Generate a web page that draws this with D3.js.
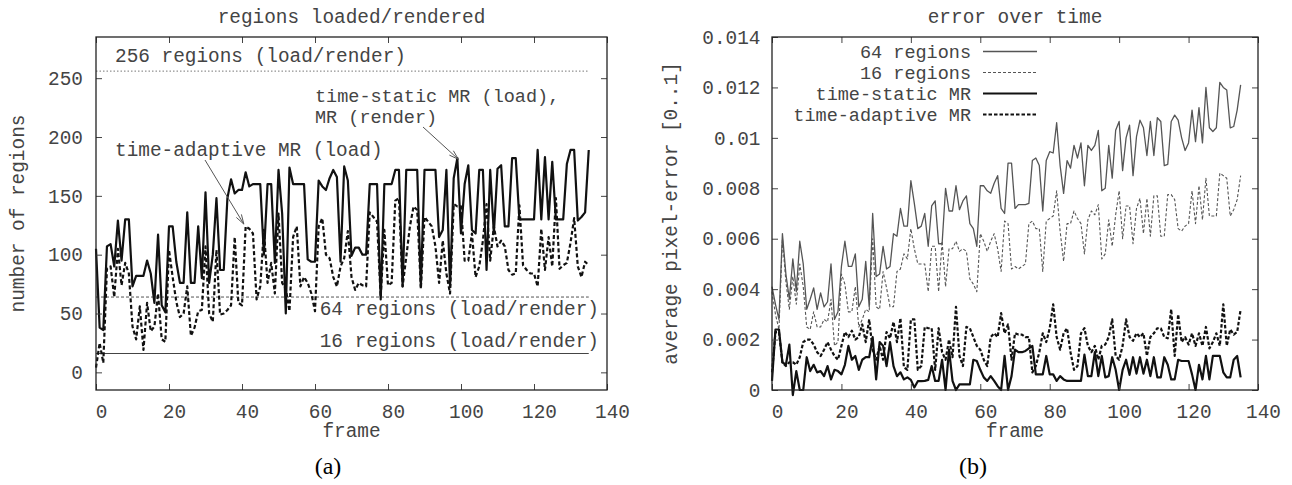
<!DOCTYPE html>
<html>
<head>
<meta charset="utf-8">
<script src="https://cdn.jsdelivr.net/npm/d3@7"></script>
<style>
body { margin: 0; background: #fff; }
</style>
</head>
<body>
<svg width="1292" height="485"></svg>
<script>

// frame number = position in the series (0..135)
var xTicks = [0, 20, 40, 60, 80, 100, 120, 140];
var regionTicks = [0, 50, 100, 150, 200, 250];
// error values are kept in units of 0.001
var errorTicks = [0, 2, 4, 6, 8, 10, 12, 14];
var errorTickLabels = ["0", "0.002", "0.004", "0.006", "0.008", "0.01", "0.012", "0.014"];

var fixedRegions = [256, 64, 16];
var fixedLabels = ["256 regions (load/render)", "64 regions (load/render)", "16 regions (load/render)"];

// (a) regions loaded
var loadStatic = [105,38,36,107,109,90,129,95,130,130,
    73,82,82,82,95,84,59,117,57,51,
    124,124,94,76,76,136,76,76,124,80,
    153,76,100,148,87,87,148,164,152,155,
    155,170,158,160,160,160,100,160,160,93,
    172,135,50,174,160,160,160,160,96,94,
    94,163,158,155,165,172,166,94,175,163,
    99,106,106,100,100,160,160,160,62,160,
    160,160,172,172,73,172,172,172,172,73,
    172,172,172,172,115,121,172,73,165,182,
    118,160,176,121,118,172,172,87,172,118,
    173,176,124,124,182,182,130,130,130,130,
    130,189,130,183,130,179,130,130,130,177,
    189,189,129,132,136,189];

var loadAdaptive = [4,25,8,88,90,64,105,74,93,84,
    39,28,56,19,59,35,39,67,28,26,
    104,81,60,47,50,73,31,38,52,53,
    107,50,43,104,49,50,53,57,115,59,
    57,124,122,118,62,73,121,76,93,67,
    135,76,71,52,115,124,73,81,76,67,
    52,124,131,100,97,81,73,90,97,120,
    81,70,76,74,73,136,132,128,64,121,
    74,76,146,148,73,98,124,141,138,71,
    132,128,124,107,76,112,84,67,143,141,
    141,95,95,118,81,90,112,143,95,124,
    107,112,107,87,83,84,142,91,87,84,
    84,73,122,87,115,90,148,88,91,93,
    110,131,90,81,94,91];

// (b) average pixel error, x 0.001
var err64 = [4.1,3.4,2.8,6.2,4.6,3.6,5.2,3.9,5.9,5.0,
    3.2,3.6,4.05,3.2,3.85,3.3,3.5,5.0,2.8,3.1,
    4.9,5.9,4.9,4.9,5.4,3.3,3.6,5.1,3.3,7.0,
    4.5,4.6,5.7,4.8,4.9,6.2,6.1,7.2,6.5,6.5,
    8.3,7.4,6.4,6.5,7.0,5.7,7.3,7.5,5.8,5.8,
    8.0,7.1,7.1,8.1,7.15,7.5,7.7,6.6,6.4,5.7,
    8.1,8.1,7.9,7.8,8.2,8.5,7.2,7.0,9.0,9.0,
    7.2,7.35,7.35,7.35,7.4,9.1,9.2,8.9,7.1,9.1,
    9.45,9.4,10.6,8.9,7.8,9.1,8.8,9.7,9.2,9.8,
    8.1,9.7,9.5,9.7,10.3,7.9,8.0,9.7,8.4,10.3,
    10.65,8.7,10.0,10.5,8.5,10.05,10.7,10.4,9.3,10.65,
    9.3,10.8,10.65,8.9,8.95,10.65,10.9,10.7,10.0,9.5,
    9.8,11.1,9.85,11.2,9.8,12.0,10.4,10.25,10.4,12.2,
    12.0,11.9,10.4,10.45,11.1,12.1];

var err16 = [3.9,3.0,2.4,6.0,4.3,3.2,4.5,3.4,5.0,4.1,
    2.5,2.4,3.1,2.5,2.5,2.8,2.7,3.6,1.75,1.9,
    4.6,4.2,3.1,3.1,4.1,2.5,2.8,3.2,3.1,6.0,
    3.3,3.2,4.7,4.05,3.3,3.3,4.7,4.8,5.4,5.2,
    6.4,5.6,5.0,5.0,5.0,3.9,5.7,5.7,3.9,5.9,
    4.1,5.6,5.6,5.9,5.5,5.6,5.5,4.4,4.2,3.9,
    6.2,5.9,5.5,5.9,6.2,5.6,4.7,6.7,6.6,4.8,
    4.9,4.8,4.9,5.0,6.6,6.7,6.4,6.4,4.7,6.7,
    6.8,6.9,7.9,6.3,5.1,6.6,6.6,7.1,6.8,6.6,
    5.4,6.75,7.1,6.95,7.35,5.2,5.4,6.75,5.7,6.95,
    7.9,6.0,7.3,7.3,5.8,7.2,7.6,6.2,7.6,6.1,
    7.7,7.7,6.1,6.1,7.75,7.75,7.55,6.4,6.3,6.5,
    6.6,7.9,6.6,8.1,6.75,8.4,6.9,6.9,6.9,8.6,
    8.5,8.4,6.9,7.15,7.55,8.5];

var errStatic = [0.36,2.4,2.4,1.1,1.0,1.8,-0.2,0.75,0,0,
    1.3,0.75,1.0,0.7,0.75,0.55,0.95,0.42,0.8,0.75,
    0.62,1.0,1.75,1.2,1.35,0.8,1.2,1.3,1.3,2.1,
    0.42,1.9,1.75,0.95,1.9,0.95,0.55,0.7,0.42,0.5,
    0.4,0.1,0.35,0.35,0.36,0.4,0.95,0.36,0.36,1.2,
    0,1.6,0.36,0,0.22,0.22,0.22,0.22,1.2,1.15,
    0.8,0.5,0.36,0.55,0.36,0.15,0,1.35,0,0.55,
    1.6,1.5,1.5,1.55,1.65,1.75,0.62,0.62,0.62,1.35,
    0.62,0.62,0.36,0.55,0.42,0.36,0.36,0.36,0.36,0.36,
    1.4,0.55,0.55,1.5,0.55,1.35,0.5,0.55,1.3,0.8,
    0,0.8,1.2,0.6,1.3,0.65,1.3,0.65,1.2,0.55,
    1.3,0.5,0.5,1.3,1.0,0.42,0.42,1.2,1.15,1.15,
    1.15,0.62,0,1.0,0.42,1.35,0.42,1.35,1.35,1.35,
    0.7,0.5,0.5,1.2,1.35,0.5];

var errAdaptive = [0.7,2.3,2.3,1.1,0.95,1.1,1.1,1.0,1.3,1.9,
    2.0,2.0,1.8,1.5,1.35,1.6,1.9,1.6,1.35,1.2,
    1.75,2.3,2.1,2.35,2.0,2.1,2.6,1.9,2.8,1.6,
    1.2,1.75,1.2,2.3,2.05,2.7,1.9,2.85,0.9,0.8,
    2.8,2.8,0.8,0.95,2.5,2.45,2.45,0.8,2.45,1.5,
    1.2,2.0,1.3,3.3,1.35,0.95,2.5,2.45,2.1,1.75,
    1.6,1.2,0.95,2.1,2.25,2.1,3.05,2.25,2.6,1.2,
    2.25,2.2,2.2,2.1,2.1,0.7,0.95,1.5,2.25,1.9,
    2.45,3.4,2.1,1.6,2.25,2.45,1.5,0.8,0.95,2.25,
    2.45,1.75,1.5,1.75,1.2,1.75,1.8,2.1,2.8,1.35,
    1.2,1.75,2.8,2.1,1.95,2.25,2.1,2.25,1.35,2.1,
    2.25,2.45,2.45,2.1,2.05,3.2,1.35,3.0,1.9,2.1,
    1.8,2.25,1.75,2.25,1.75,2.5,1.65,1.9,2.25,1.75,
    3.4,1.75,2.4,2.2,2.3,3.2];

var legendNames = ["64 regions", "16 regions", "time-static MR", "time-adaptive MR"];

var FONT = 19.4;
var SMALL = 18.5;   // stacked labels, so that the lines do not collide
var MONO = '"Liberation Mono", "DejaVu Sans Mono", monospace';
var TEXT = "#444";

window.onload = function() {
    var svg = d3.select("svg");
    makeRegions(svg);
    makeError(svg);
}

// box, mirrored inward ticks and tick labels, gnuplot style
function drawFrame(g, x, y, w, h, yTicks, yFormat, yPad) {
    var bottom = g.append("g")
        .attr("transform", "translate(0," + h + ")")
        .call(d3.axisBottom(x).tickValues(xTicks).tickSize(-6).tickFormat(d3.format("d")));
    bottom.selectAll("text").attr("y", 28).attr("dy", null).attr("dx", 5);

    g.append("g").call(d3.axisTop(x).tickValues(xTicks).tickSize(-6).tickFormat(""));

    g.append("g")
        .call(d3.axisLeft(y).tickValues(yTicks).tickSize(-6).tickPadding(yPad).tickFormat(yFormat));

    g.append("g")
        .attr("transform", "translate(" + w + ",0)")
        .call(d3.axisRight(y).tickValues(yTicks).tickSize(-6).tickFormat(""));

    g.selectAll(".domain").remove();
    g.selectAll(".tick line").attr("stroke", "#444");
    g.selectAll(".tick text")
        .attr("font-size", FONT)
        .attr("font-family", MONO)
        .attr("fill", TEXT);

    g.append("rect")
        .attr("width", w)
        .attr("height", h)
        .attr("fill", "none")
        .attr("stroke", "#222")
        .attr("stroke-width", 1.3);
}

function addText(svg, x, y, s, anchor, size) {
    return svg.append("text")
        .attr("x", x)
        .attr("y", y)
        .attr("font-family", MONO)
        .attr("font-size", size || FONT)
        .attr("fill", TEXT)
        .attr("text-anchor", anchor || "start")
        .text(s);
}

function arrow(g, x1, y1, x2, y2) {
    g.append("line")
        .attr("x1", x1).attr("y1", y1).attr("x2", x2).attr("y2", y2)
        .attr("stroke", "#555").attr("stroke-width", 1);
    var a = Math.atan2(y2 - y1, x2 - x1);
    [-0.3, 0.3].forEach(function(s) {
        g.append("line")
            .attr("x1", x2).attr("y1", y2)
            .attr("x2", x2 - 10 * Math.cos(a + s))
            .attr("y2", y2 - 10 * Math.sin(a + s))
            .attr("stroke", "#555").attr("stroke-width", 1);
    });
}

function drawSeries(g, data, x, y, color, width, dash) {
    var line = d3.line()
        .x(function(d, i) { return x(i); })
        .y(function(d) { return y(d); });
    g.append("path")
        .datum(data)
        .attr("d", line)
        .attr("fill", "none")
        .attr("stroke", color)
        .attr("stroke-width", width)
        .attr("stroke-linejoin", "round")
        .attr("stroke-dasharray", dash || null);
}

function caption(svg, x, s) {
    svg.append("text")
        .attr("x", x).attr("y", 474)
        .attr("text-anchor", "middle")
        .attr("font-family", '"Liberation Serif", "DejaVu Serif", serif')
        .attr("font-size", 24)
        .attr("fill", "#000")
        .text(s);
}

function makeRegions(svg) {
    var margin = { left: 96, top: 37 };
    var width = 511, height = 353;

    var g = svg.append("g")
        .attr("transform", "translate(" + margin.left + "," + margin.top + ")");

    var x = d3.scaleLinear().domain([0, 140]).range([0, width]);
    var y = d3.scaleLinear().domain([-15, 285]).range([height, 0]);

    // constant region counts
    var refStyle = [
        { color: "#777", dash: "1.5,2", w: 1 },
        { color: "#555", dash: "3,2", w: 1 },
        { color: "#444", dash: null, w: 1.2 }
    ];
    fixedRegions.forEach(function(v, i) {
        g.append("line")
            .attr("x1", x(0)).attr("x2", x(loadStatic.length - 1))
            .attr("y1", y(v)).attr("y2", y(v))
            .attr("stroke", refStyle[i].color)
            .attr("stroke-width", refStyle[i].w)
            .attr("stroke-dasharray", refStyle[i].dash);
    });

    drawSeries(g, loadAdaptive, x, y, "#111", 2.2, "4,2.5");
    drawSeries(g, loadStatic, x, y, "#111", 2.2);

    drawFrame(g, x, y, width, height, regionTicks, d3.format("d"), 13);

    addText(svg, 115, 61.5, fixedLabels[0]);
    addText(svg, 599, 315, fixedLabels[1], "end");
    addText(svg, 599, 347, fixedLabels[2], "end");
    addText(svg, 315, 102, "time-static MR (load),", "start", SMALL);
    addText(svg, 315, 123, "MR (render)", "start", SMALL);
    addText(svg, 115, 156, "time-adaptive MR (load)");

    arrow(svg, 423, 127, margin.left + x(99.3), margin.top + y(181));
    arrow(svg, 205, 160, margin.left + x(40.5), margin.top + y(126));

    addText(svg, margin.left + width / 2, 23, "regions loaded/rendered", "middle");
    addText(svg, margin.left + width / 2, 437, "frame", "middle");
    addText(svg, 0, 0, "number of regions", "middle")
        .attr("transform", "translate(24," + (margin.top + height / 2) + ") rotate(-90)");

    caption(svg, 328, "(a)");
}

function makeError(svg) {
    var margin = { left: 772, top: 37 };
    var width = 486, height = 353;

    var g = svg.append("g")
        .attr("transform", "translate(" + margin.left + "," + margin.top + ")");

    var x = d3.scaleLinear().domain([0, 140]).range([0, width]);
    var y = d3.scaleLinear().domain([0, 14]).range([height, 0]);

    var styles = [
        { data: err64, color: "#555", w: 1.3, dash: null },
        { data: err16, color: "#555", w: 1.1, dash: "3,2" },
        { data: errStatic, color: "#111", w: 2.2, dash: null },
        { data: errAdaptive, color: "#111", w: 2.2, dash: "3.5,2" }
    ];

    styles.forEach(function(s) {
        drawSeries(g, s.data, x, y, s.color, s.w, s.dash);
    });

    drawFrame(g, x, y, width, height, errorTicks, function(d, i) { return errorTickLabels[i]; }, 11.5);

    // legend
    var rowY = [51.5, 72.5, 93.5, 114.5];
    legendNames.forEach(function(name, i) {
        addText(svg, 971, rowY[i] + 6, name, "end", SMALL);
        svg.append("line")
            .attr("x1", 983).attr("x2", 1037)
            .attr("y1", rowY[i]).attr("y2", rowY[i])
            .attr("stroke", styles[i].color)
            .attr("stroke-width", styles[i].w)
            .attr("stroke-dasharray", styles[i].dash);
    });

    addText(svg, margin.left + width / 2, 23, "error over time", "middle");
    addText(svg, margin.left + width / 2, 437, "frame", "middle");
    addText(svg, 0, 0, "average pixel-error [0..1]", "middle")
        .attr("transform", "translate(676.5," + (margin.top + height / 2) + ") rotate(-90)");

    caption(svg, 973, "(b)");
}
</script>
</body>
</html>
